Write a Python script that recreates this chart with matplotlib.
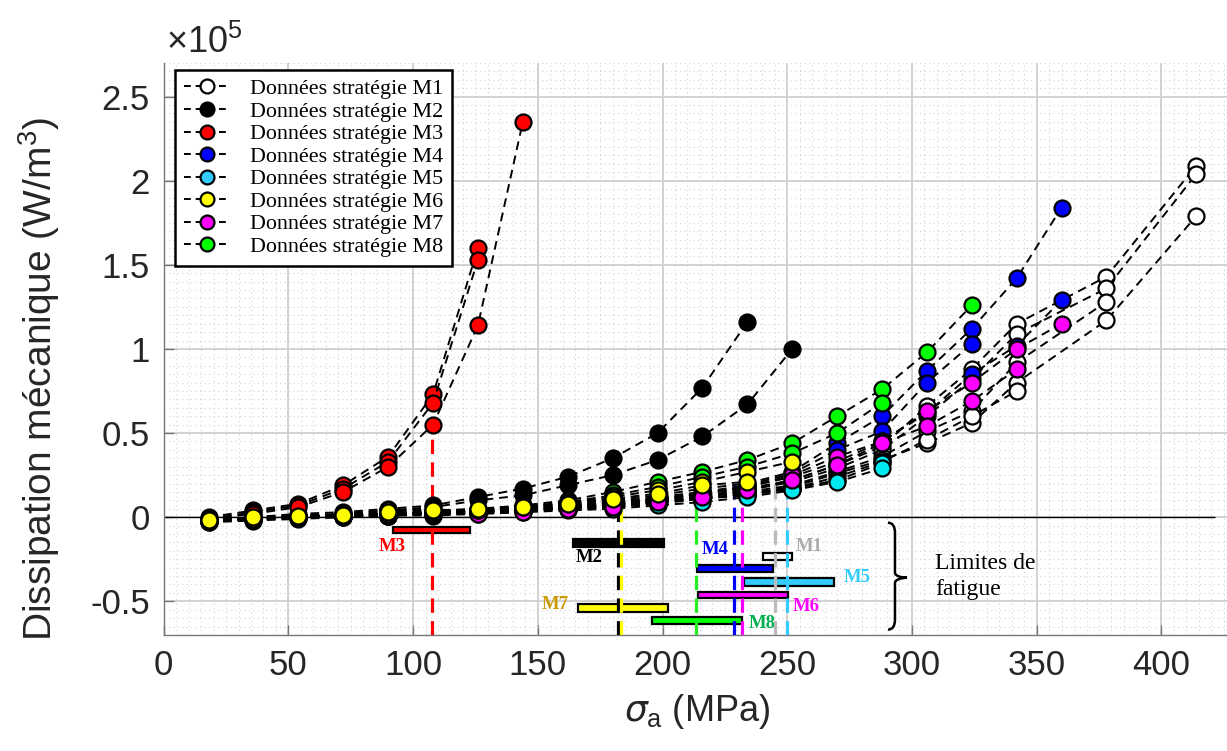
import numpy as np
import matplotlib.pyplot as plt
from matplotlib.lines import Line2D
from matplotlib.path import Path
from matplotlib.patches import PathPatch

plt.rcParams['font.family'] = ['Liberation Sans', 'DejaVu Sans']
plt.rcParams['mathtext.default'] = 'regular'
plt.rcParams['axes.unicode_minus'] = False

# stress amplitude levels (MPa)
sigma = [18, 36, 54, 72, 90, 108, 126, 144, 162, 180, 198, 216, 234, 252, 270, 288, 306, 324, 342, 360]
sigma_m1 = [18, 36, 54, 72, 90, 108, 126, 144, 162, 180, 198, 216, 234, 252, 270, 288, 306, 324, 342, 378, 414]

# dissipation (x 1e5 W/m3), one list per specimen
m1_curves = [
    [-0.02, -0.01, 0.00, 0.01, 0.02, 0.03, 0.04, 0.05, 0.07, 0.09, 0.11, 0.14, 0.17, 0.22, 0.31, 0.42, 0.66, 0.88, 1.15, 1.43, 2.09],
    [-0.02, -0.01, 0.00, 0.01, 0.02, 0.03, 0.04, 0.05, 0.06, 0.08, 0.10, 0.13, 0.16, 0.21, 0.29, 0.40, 0.60, 0.82, 1.09, 1.36, 2.04],
    [-0.02, -0.01, 0.00, 0.01, 0.02, 0.02, 0.03, 0.05, 0.06, 0.08, 0.10, 0.12, 0.15, 0.19, 0.27, 0.36, 0.51, 0.63, 0.92, 1.28],
    [-0.02, -0.01, 0.00, 0.01, 0.01, 0.02, 0.03, 0.04, 0.06, 0.07, 0.09, 0.11, 0.14, 0.18, 0.26, 0.34, 0.44, 0.56, 0.80, 1.17, 1.79],
    [-0.02, -0.01, 0.00, 0.01, 0.01, 0.02, 0.03, 0.04, 0.05, 0.07, 0.09, 0.11, 0.13, 0.17, 0.24, 0.33, 0.46, 0.60, 0.75],
]
m2_curves = [
    [-0.02, 0.00, 0.02, 0.03, 0.05, 0.07, 0.12, 0.17, 0.24, 0.35, 0.50, 0.77, 1.16],
    [-0.03, -0.01, 0.01, 0.02, 0.04, 0.06, 0.10, 0.13, 0.19, 0.25, 0.34, 0.48, 0.67, 1.00],
]
m3_curves = [
    [0.00, 0.04, 0.08, 0.19, 0.36, 0.73, 1.60],
    [-0.01, 0.03, 0.07, 0.17, 0.33, 0.68, 1.53],
    [-0.01, 0.02, 0.06, 0.15, 0.30, 0.55, 1.14, 2.35],
]
m4_curves = [
    [-0.02, -0.01, 0.00, 0.01, 0.02, 0.03, 0.04, 0.06, 0.08, 0.10, 0.13, 0.17, 0.20, 0.27, 0.44, 0.60, 0.87, 1.12, 1.42, 1.84],
    [-0.02, -0.01, 0.00, 0.01, 0.02, 0.03, 0.04, 0.05, 0.07, 0.09, 0.12, 0.15, 0.19, 0.26, 0.40, 0.51, 0.80, 1.03],
    [-0.02, -0.01, 0.00, 0.01, 0.02, 0.02, 0.03, 0.05, 0.07, 0.08, 0.11, 0.14, 0.18, 0.24, 0.33, 0.45, 0.62, 0.85, 1.02, 1.29],
]
m5_curves = [
    [-0.02, -0.01, 0.00, 0.00, 0.01, 0.02, 0.03, 0.04, 0.05, 0.06, 0.08, 0.11, 0.14, 0.17, 0.22, 0.32],
    [-0.03, -0.02, -0.01, 0.00, 0.01, 0.01, 0.02, 0.03, 0.04, 0.05, 0.07, 0.09, 0.12, 0.16, 0.21, 0.29],
]
m6_curves = [
    [-0.02, -0.01, 0.00, 0.02, 0.04, 0.045, 0.04, 0.065, 0.085, 0.12, 0.16, 0.21, 0.27, 0.33],
    [-0.015, 0.00, 0.01, 0.015, 0.03, 0.04, 0.05, 0.06, 0.08, 0.11, 0.14, 0.19, 0.21],
]
m7_curves = [
    [-0.02, -0.01, 0.00, 0.01, 0.01, 0.02, 0.03, 0.04, 0.05, 0.07, 0.10, 0.14, 0.18, 0.25, 0.36, 0.45, 0.63, 0.80, 1.00, 1.15],
    [-0.02, -0.01, 0.00, 0.00, 0.01, 0.02, 0.02, 0.03, 0.05, 0.06, 0.09, 0.12, 0.16, 0.22, 0.31, 0.44, 0.54, 0.69, 0.88],
]
m8_curves = [
    [-0.02, -0.01, 0.00, 0.01, 0.02, 0.03, 0.05, 0.07, 0.10, 0.15, 0.21, 0.27, 0.34, 0.44, 0.60, 0.76, 0.98, 1.26],
    [-0.02, -0.01, 0.00, 0.01, 0.02, 0.03, 0.04, 0.06, 0.09, 0.13, 0.18, 0.24, 0.30, 0.38, 0.50, 0.68],
]

strategies = ['M1', 'M2', 'M3', 'M4', 'M5', 'M6', 'M7', 'M8']
marker_colors = ['white', 'black', '#FF0000', '#0000FF', '#00E8F0', '#FFFF00', '#FF00FF', '#00FF00']
legend_colors = ['white', 'black', '#FF0000', '#0000FF', '#33CCFF', '#FFFF00', '#FF00FF', '#00FF00']
all_curves = [m1_curves, m2_curves, m3_curves, m4_curves, m5_curves, m6_curves, m7_curves, m8_curves]
sigmas = [sigma_m1, sigma, sigma, sigma, sigma, sigma, sigma, sigma]
zorders = [5, 5.1, 5.2, 5.3, 5.4, 6, 5.5, 5.6]

# fatigue limits (vertical dashed lines)
limit_sigma = [107.6, 182.1, 183.5, 213.5, 228.8, 231.9, 245.2, 249.9]
limit_top = [0.60, 0.17, 0.15, 0.20, 0.21, 0.16, 0.20, 0.20]
limit_colors = ['#FF0000', 'black', '#FFFF00', '#22EE22', '#0000FF', '#FF00FF', '#BBBBBB', '#33CCFF']

# fatigue limit ranges (horizontal bars)
bar_names = ['M3', 'M2', 'M1', 'M4', 'M5', 'M6', 'M7', 'M8']
bar_left = [91.9, 164.0, 240.2, 213.8, 232.6, 214.2, 166.0, 195.7]
bar_right = [122.8, 200.5, 251.8, 244.2, 268.7, 250.3, 202.2, 231.8]
bar_y = [-0.077, -0.153, -0.233, -0.307, -0.385, -0.463, -0.540, -0.614]
bar_h = [0.036, 0.05, 0.040, 0.040, 0.042, 0.040, 0.044, 0.042]
bar_colors = ['#FF0000', 'black', 'white', '#0000FF', '#33CCFF', '#FF00FF', '#FFFF00', '#00FF00']
tag_x = [91.5, 170.5, 259.0, 221.0, 278.0, 257.5, 157.0, 240.0]
tag_y = [-0.175, -0.24, -0.175, -0.19, -0.36, -0.53, -0.52, -0.63]
tag_colors = ['#FF0000', 'black', '#AAAAAA', '#0000FF', '#33CCFF', '#FF00FF', '#CC9900', '#00B050']

fig = plt.figure(figsize=(12.27, 7.51), dpi=100)
ax = fig.add_axes([0.1334, 0.1545, 0.8944, 0.7617])
ax.set_xlim(0, 440)
ax.set_ylim(-0.7, 2.7)

ax.set_xticks(np.arange(0, 450, 50))
ax.set_yticks(np.arange(-0.5, 2.6, 0.5))
ax.set_xticks(np.arange(0, 441, 5), minor=True)
ax.set_yticks(np.arange(-0.7, 2.71, 0.05), minor=True)
ax.set_yticklabels(['%g' % v for v in np.arange(-0.5, 2.6, 0.5)])
ax.grid(which='major', color='#CFCFCF', lw=1.3, ls='-', zorder=0)
ax.grid(which='minor', color='#D2D2D2', lw=0.8, ls=(0, (1, 3)), zorder=0)
ax.set_axisbelow(True)
ax.tick_params(which='major', direction='in', length=7, width=1, color='#777777',
               labelsize=25, labelcolor='#262626', pad=10)
ax.tick_params(which='minor', length=0)
for s in ['top', 'right']:
    ax.spines[s].set_visible(False)
for s in ['left', 'bottom']:
    ax.spines[s].set_color('#777777')
    ax.spines[s].set_linewidth(1)

ax.hlines(0, 0, 421.5, color='black', lw=1, zorder=2)

# horizontal bars
for i in range(len(bar_names)):
    ax.barh(bar_y[i], bar_right[i] - bar_left[i], left=bar_left[i], height=bar_h[i],
            color=bar_colors[i], edgecolor='black', lw=1.6, zorder=3)
    ax.text(tag_x[i], tag_y[i], bar_names[i], color=tag_colors[i], fontsize=13.5,
            fontweight='bold', family='Liberation Serif', ha='center', va='center', zorder=3)

# vertical dashed fatigue limits
for i in range(len(limit_sigma)):
    ax.vlines(limit_sigma[i], -0.7, limit_top[i], colors=limit_colors[i], lw=2.3,
              linestyles=(0, (4.5, 2.6)), zorder=4)

# data
for k in range(len(strategies)):
    for vals in all_curves[k]:
        ax.plot(sigmas[k][:len(vals)], vals, color='black', lw=1.4, ls=(0, (4.5, 3)),
                marker='o', ms=11.5, mfc=marker_colors[k], mec='black', mew=1.6, zorder=zorders[k])

# brace and annotation
bx, btop, bbot, bmid = 293.2, -0.033, -0.668, -0.36
verts = [(290.4, btop), (292.2, btop), (bx, btop - 0.02), (bx, btop - 0.06),
         (bx, bmid + 0.03),
         (bx, bmid + 0.01), (296.0, bmid), (298.0, bmid),
         (296.0, bmid), (bx, bmid - 0.01), (bx, bmid - 0.03),
         (bx, bbot + 0.06),
         (bx, bbot + 0.02), (292.2, bbot), (290.4, bbot)]
codes = [Path.MOVETO, Path.CURVE4, Path.CURVE4, Path.CURVE4, Path.LINETO,
         Path.CURVE4, Path.CURVE4, Path.CURVE4, Path.CURVE4, Path.CURVE4, Path.CURVE4,
         Path.LINETO, Path.CURVE4, Path.CURVE4, Path.CURVE4]
ax.add_patch(PathPatch(Path(verts, codes), fill=False, lw=1.8, color='black', zorder=3))
ax.text(309.3, -0.352, 'Limites de\nfatigue', family='Liberation Serif', fontsize=17,
        ha='left', va='center', linespacing=1.3, zorder=3)

# legend
handles = [Line2D([0], [0], color='black', lw=1.4, ls=(0, (3.5, 2.5)), marker='o', ms=10,
                  mfc=legend_colors[k], mec='black', mew=1.6) for k in range(len(strategies))]
labels = ['Données stratégie ' + s for s in strategies]
leg = ax.legend(handles, labels, loc='upper left', bbox_to_anchor=(175 / 1227, 1 - 70 / 751),
                bbox_transform=fig.transFigure, borderaxespad=0, fancybox=False,
                framealpha=1, edgecolor='black', handlelength=2.1, handletextpad=0.9,
                labelspacing=0.1, borderpad=0.4,
                prop={'family': 'Liberation Serif', 'size': 15.8})
leg.get_frame().set_linewidth(1.8)
leg.set_zorder(10)

ax.set_xlabel(r'$\mathit{\sigma}_{\mathregular{a}}$ (MPa)', fontsize=26, color='#262626')
ax.xaxis.set_label_coords(0.486, -0.1)
ax.set_ylabel('Dissipation mécanique (W/m$^{3}$)', fontsize=28, color='#262626')
ax.yaxis.set_label_coords(-0.093, 0.447)
fig.text(0.135, 0.929, r'$\times$10$^{5}$', fontsize=26, color='#262626', va='baseline')

fig.savefig('out.png', dpi=100)
